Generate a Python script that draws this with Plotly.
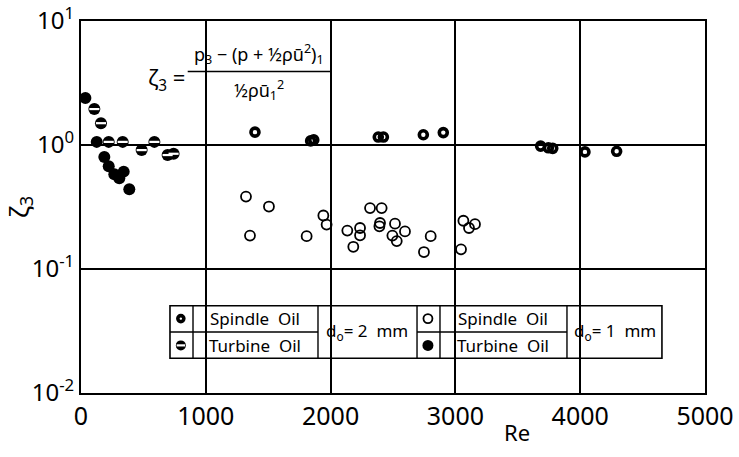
import plotly.graph_objects as go

# ---------------- data ----------------
re_spindle_d2 = [1394, 1840, 1865, 2382, 2423, 2743, 2903, 3683, 3745, 3780, 4038, 4292]
z_spindle_d2 = [1.27, 1.08, 1.10, 1.16, 1.16, 1.21, 1.26, 0.98, 0.95, 0.94, 0.88, 0.89]

re_turbine_d2 = [107, 160, 222, 334, 486, 588, 694, 742]
z_turbine_d2 = [1.95, 1.50, 1.06, 1.06, 0.91, 1.06, 0.83, 0.85]

re_spindle_d1 = [1322, 1506, 1354, 1808, 1942, 1968, 2134, 2236, 2236, 2182, 2316, 2409,
                 2396, 2391, 2516, 2495, 2530, 2596, 2802, 2748, 3064, 3109, 3157, 3045]
z_spindle_d1 = [0.384, 0.319, 0.186, 0.184, 0.270, 0.228, 0.204, 0.214, 0.187, 0.151, 0.310, 0.310,
                0.235, 0.221, 0.232, 0.186, 0.168, 0.201, 0.184, 0.137, 0.245, 0.214, 0.230, 0.144]

re_turbine_d1 = [35, 126, 187, 222, 267, 307, 342, 387]
z_turbine_d1 = [2.39, 1.06, 0.80, 0.675, 0.58, 0.54, 0.61, 0.44]

x_ticks = [0, 1000, 2000, 3000, 4000, 5000]
x_ticktext = ["0", "1000", "2000", "3000", "4000", "5000"]
y_ticks = [0.01, 0.1, 1, 10]
y_ticktext = ["10<sup>-2</sup>", "10<sup>-1</sup>", "10<sup>0</sup>", "10<sup>1</sup>"]

legend_oils = ["Spindle  Oil", "Turbine  Oil"]
legend_dia = ["d<sub>o</sub>= 2  mm", "d<sub>o</sub>= 1  mm"]

FONT = "Noto Sans"

fig = go.Figure()


def add_spindle_d2(x, y, xa="x", ya="y", size=8):
    fig.add_trace(go.Scatter(x=x, y=y, mode="markers", xaxis=xa, yaxis=ya,
                             marker=dict(symbol="circle-open", size=size, color="black",
                                         line=dict(width=3.6, color="black")),
                             showlegend=False, hoverinfo="skip"))


def add_turbine_d2(x, y, xa="x", ya="y", size=12):
    fig.add_trace(go.Scatter(x=x, y=y, mode="markers", xaxis=xa, yaxis=ya,
                             marker=dict(symbol="circle", size=size, color="black",
                                         line=dict(width=0)),
                             showlegend=False, hoverinfo="skip"))
    fig.add_trace(go.Scatter(x=x, y=y, mode="markers", xaxis=xa, yaxis=ya,
                             marker=dict(symbol="line-ew", size=size * 0.6,
                                         line=dict(width=2.2, color="white")),
                             showlegend=False, hoverinfo="skip"))


def add_spindle_d1(x, y, xa="x", ya="y", size=10):
    fig.add_trace(go.Scatter(x=x, y=y, mode="markers", xaxis=xa, yaxis=ya,
                             marker=dict(symbol="circle-open", size=size, color="black",
                                         line=dict(width=1.8, color="black")),
                             showlegend=False, hoverinfo="skip"))


def add_turbine_d1(x, y, xa="x", ya="y", size=12):
    fig.add_trace(go.Scatter(x=x, y=y, mode="markers", xaxis=xa, yaxis=ya,
                             marker=dict(symbol="circle", size=size, color="black"),
                             showlegend=False, hoverinfo="skip"))


add_spindle_d1(re_spindle_d1, z_spindle_d1)
add_spindle_d2(re_spindle_d2, z_spindle_d2)
add_turbine_d2(re_turbine_d2, z_turbine_d2)
add_turbine_d1(re_turbine_d1, z_turbine_d1)

# ---------------- legend table (overlay axes in plot-fraction units) ----------------
lx_left = 0.160
lx_right = 0.556
ly_top = 0.200
ly_bot = 0.128
add_spindle_d2([lx_left], [ly_top], "x2", "y2", size=6)
add_turbine_d2([lx_left], [ly_bot], "x2", "y2", size=10)
add_spindle_d1([lx_right], [ly_top], "x2", "y2", size=9)
add_turbine_d1([lx_right], [ly_bot], "x2", "y2", size=11)

shapes = []
# white-out behind formula
shapes.append(dict(type="rect", xref="paper", yref="paper", x0=0.094, x1=0.425, y0=0.765, y1=0.995,
                   fillcolor="white", line=dict(width=0), layer="between"))
# legend box
shapes.append(dict(type="rect", xref="paper", yref="paper", x0=0.1426, x1=0.931, y0=0.0933, y1=0.2347,
                   fillcolor="white", line=dict(width=1.6, color="black"), layer="between"))
for xc in [0.1795, 0.3798, 0.5385, 0.5753, 0.7788]:
    shapes.append(dict(type="line", xref="paper", yref="paper", x0=xc, x1=xc, y0=0.0933, y1=0.2347,
                       line=dict(width=1.4, color="black"), layer="between"))
for (a, b) in [(0.1426, 0.3798), (0.5385, 0.7788)]:
    shapes.append(dict(type="line", xref="paper", yref="paper", x0=a, x1=b, y0=0.164, y1=0.164,
                       line=dict(width=1.4, color="black"), layer="between"))
# fraction bar
shapes.append(dict(type="line", xref="paper", yref="paper", x0=0.171, x1=0.402, y0=0.864, y1=0.864,
                   line=dict(width=1.5, color="black"), layer="above"))


def ann(x, y, text, size):
    return dict(x=x, y=y, xref="paper", yref="paper", text=text, showarrow=False,
                xanchor="center", yanchor="middle",
                font=dict(family=FONT, size=size, color="black"))


annotations = []
for i, (xc, dc) in enumerate([(0.2796, 0.459), (0.677, 0.855)]):
    annotations.append(ann(xc, 0.200, legend_oils[0], 17))
    annotations.append(ann(xc, 0.128, legend_oils[1], 17))
    annotations.append(ann(dc, 0.164, legend_dia[i], 17))

# formula
annotations.append(ann(0.137, 0.845, "ζ<sub>3</sub> =", 22))
annotations.append(ann(0.286, 0.912, "p<sub>3</sub> − (p + ½ρū<sup>2</sup>)<sub>1</sub>", 18))
annotations.append(ann(0.286, 0.815, "½ρū<sub>1</sub><sup>2</sup>", 18))
# x title
annotations.append(ann(0.699, -0.104, "Re", 22))

fig.update_layout(
    width=739, height=457,
    margin=dict(l=81, r=34, t=21, b=64),
    paper_bgcolor="white", plot_bgcolor="white",
    showlegend=False,
    shapes=shapes,
    annotations=annotations,
    xaxis=dict(range=[0, 5000], tickvals=x_ticks, ticktext=x_ticktext, ticks="",
               showgrid=True, gridcolor="black", gridwidth=1.5, zeroline=False,
               showline=True, linecolor="black", linewidth=2, mirror=True,
               tickfont=dict(family=FONT, size=25, color="black"), automargin=False,
               ticklabeloverflow="allow"),
    yaxis=dict(type="log", range=[-2.0005, 1.0005], tickvals=y_ticks, ticktext=y_ticktext, ticks="",
               showgrid=True, gridcolor="black", gridwidth=1.5, zeroline=False,
               showline=True, linecolor="black", linewidth=2, mirror=True,
               tickfont=dict(family=FONT, size=24, color="black"), automargin=False,
               ticklabeloverflow="allow",
               title=dict(text="ζ<sub>3</sub>", standoff=2,
                          font=dict(family=FONT, size=26, color="black"))),
    xaxis2=dict(overlaying="x", range=[0, 1], visible=False, anchor="y2"),
    yaxis2=dict(overlaying="y", range=[0, 1], visible=False, anchor="x2"),
)

fig.write_html("out.html")
